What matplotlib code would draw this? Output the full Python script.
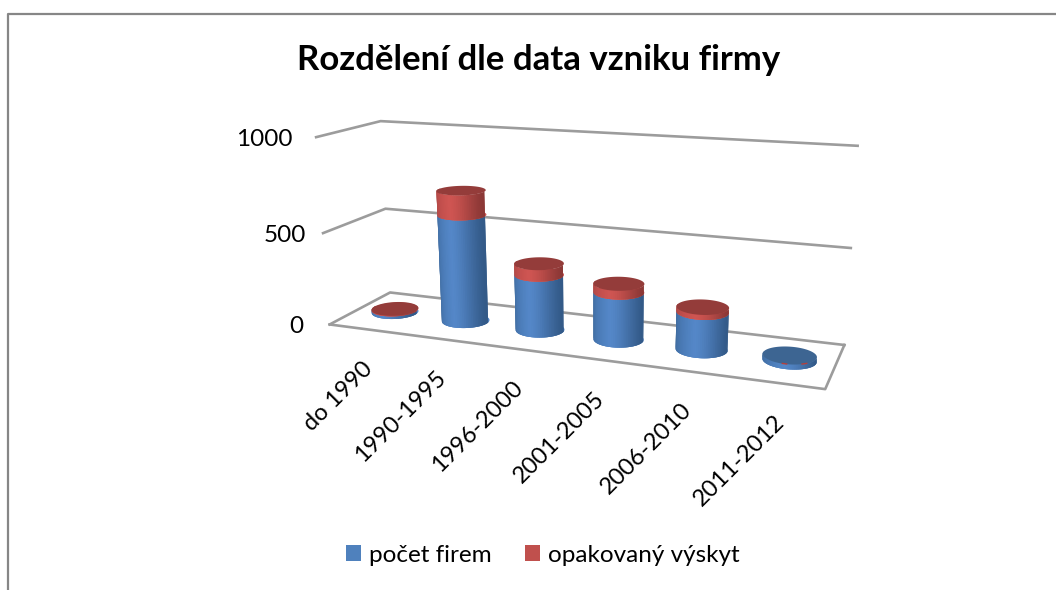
"""
plot.py - 3D-look stacked cylinder chart drawn on a flat matplotlib axes.
"""

import numpy as np
import matplotlib
matplotlib.use("Agg")
import matplotlib.pyplot as plt
from matplotlib.patches import Patch

plt.rcParams['font.family'] = ['Lato', 'DejaVu Sans']

# ── Data ──────────────────────────────────────────────────────────────────────
title = "Rozdělení dle data vzniku firmy"
categories = ["do 1990", "1990-1995", "1996-2000", "2001-2005", "2006-2010", "2011-2012"]
pocet_firem = [15, 580, 298, 250, 195, 25]
opakovany = [3, 130, 60, 45, 25, 0]
y_ticks = [0, 500, 1000]
series_names = ["počet firem", "opakovaný výskyt"]

# ── Camera: (category pos, depth, value) -> pixel, fitted on the chart frame ──
frame_world = [(0, 0, 0), (0, 1, 0), (6, 0, 0), (6, 1, 0),
               (0, 0, 500), (0, 1, 500), (6, 1, 500),
               (0, 0, 1000), (0, 1, 1000), (6, 1, 1000)]
frame_pixel = [(330, 324), (390, 293), (825, 390), (845, 344),
               (323, 233), (385, 209), (850, 248),
               (316, 137), (381, 121), (858, 146)]


def fit_camera(world, pixel):
    rows, rhs = [], []
    for (a, b, c), (x, y) in zip(world, pixel):
        c = c / 1000
        rows.append([a, b, c, 1, 0, 0, 0, 0, -x * a, -x * b, -x * c])
        rows.append([0, 0, 0, 0, a, b, c, 1, -y * a, -y * b, -y * c])
        rhs += [x, y]
    sol = np.linalg.lstsq(np.array(rows, float), np.array(rhs, float), rcond=None)[0]
    return np.append(sol, 1).reshape(3, 4)


CAM = fit_camera(frame_world, frame_pixel)


def project(u, w, v):
    u, w, v = np.broadcast_arrays(u, w, np.asarray(v, float) / 1000)
    p = CAM @ np.stack([u, w, v, np.ones_like(u)])
    return p[0] / p[2], p[1] / p[2]


# ── Cylinder drawing ──────────────────────────────────────────────────────────
R_U, R_W = 0.295, 0.2
BLUE = ('#3a6596', '#5487c8', '#335a88')
RED = ('#a54341', '#cf5552', '#8c3836')
BLUE_TOP, RED_TOP = '#3d6592', '#943c3a'


def shade(cols, s):
    # s = -1 left edge, 1 right edge; brightest a little left of the middle
    c0, c1, c2 = [np.array(matplotlib.colors.to_rgb(c)) for c in cols]
    peak = -0.05
    if s < peak:
        return c0 + (c1 - c0) * ((s + 1) / (peak + 1)) ** 0.6
    return c1 + (c2 - c1) * ((s - peak) / (1 - peak)) ** 1.6


def ring(u, v, t):
    return project(u + R_U * np.cos(t), 0.5 + R_W * np.sin(t), v)


def draw_segment(ax, u, v0, v1, cols, z):
    ts = np.linspace(np.pi * 0.97, np.pi * 2.03, 46)
    x, y = ring(u, v0, np.linspace(0, 2 * np.pi, 90))
    ax.fill(x, y, color=cols[1], lw=0, zorder=z)
    # painter's order: each strip runs under the next one, so no seams show
    for k in range(len(ts) - 1):
        tt = ts[k:k + 3]
        xb, yb = ring(u, v0, tt)
        xt, yt = ring(u, v1, tt)
        col = shade(cols, np.clip(np.cos((ts[k] + ts[k + 1]) / 2), -1, 1))
        ax.fill(np.r_[xb, xt[::-1]], np.r_[yb, yt[::-1]], fc=col, ec='none', lw=0, zorder=z)


fig = plt.figure(figsize=(10.56, 5.9), dpi=100)
ax = fig.add_axes([0, 0, 1, 1])
ax.set_xlim(0, 1056)
ax.set_ylim(590, 0)
ax.axis('off')

# outer chart border (only left and top are in frame)
ax.plot([8, 8, 1056], [590, 14, 14], color='#868686', lw=1.6, solid_capstyle='butt', zorder=1)

ax.text(539, 60, title, fontsize=25, fontweight='bold', ha='center', va='center', color='black')

# ── Walls and floor ───────────────────────────────────────────────────────────
GRID = '#9c9c9c'
n = len(categories)
tick_gap = [26, 17, 24]
for val, gap in zip(y_ticks, tick_gap):
    x, y = project([0, 0, n], [0, 1, 1], val)
    ax.plot(x, y, color=GRID, lw=1.9, zorder=2)
    ax.text(x[0] - gap, y[0] + 2, str(val), fontsize=17.5, ha='right', va='center', color='black')
x, y = project([0, n, n], [0, 0, 1], 0)
ax.plot(x, y, color=GRID, lw=1.9, zorder=2)

# ── Bars ──────────────────────────────────────────────────────────────────────
for i, (blue, red) in enumerate(zip(pocet_firem, opakovany)):
    u = i + 0.5
    z = 3 + i
    draw_segment(ax, u, 0, blue, BLUE, z)
    if red > 0:
        draw_segment(ax, u, blue, blue + red, RED, z)
    tx, ty = ring(u, blue + red, np.linspace(0, 2 * np.pi, 90))
    ax.fill(tx, ty, color=RED_TOP if red > 0 else BLUE_TOP, lw=0, zorder=z)
    if red == 0:
        # tiny red flecks where the empty red segment pokes through the cap
        for a, b in [(4.62, 4.78), (5.35, 5.55)]:
            fx, fy = ring(u, blue + 1, np.linspace(a, b, 6))
            ax.plot(fx, fy, color='#b5403c', lw=1.0, zorder=z)

    # category label hangs under the front floor edge
    lx, ly = project(u, 0, 0)
    ax.text(lx + 4, ly + 36, categories[i], fontsize=17, rotation=45,
            rotation_mode='anchor', ha='right', va='center', color='black', zorder=20)

# ── Legend ────────────────────────────────────────────────────────────────────
handles = [Patch(fc='#4f81bd', ec='none'), Patch(fc='#c0504d', ec='none')]
ax.legend(handles, series_names, ncol=2, loc='center', bbox_to_anchor=(543, 555),
          bbox_transform=ax.transData, frameon=False, fontsize=17.5,
          handlelength=0.62, handleheight=0.62, handletextpad=0.33, columnspacing=1.37,
          borderpad=0, labelcolor='black')

fig.savefig("out.png", dpi=100)
